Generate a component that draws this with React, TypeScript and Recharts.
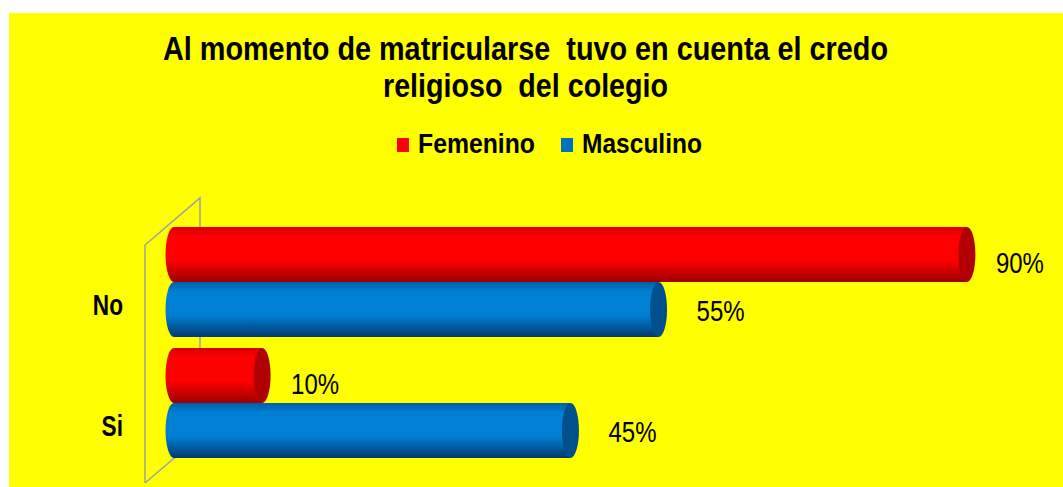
import React from 'react';
import { BarChart, Bar, XAxis, YAxis, LabelList } from 'recharts';

const CATEGORIES = ['No', 'Si'];
const FEMENINO = [90, 10];
const MASCULINO = [55, 45];
const SERIES = ['Femenino', 'Masculino'];
const TITLE_LINES = ['Al momento de matricularse  tuvo en cuenta el credo', 'religioso  del colegio'];

const chartData = CATEGORIES.map((cat, i) => ({
  cat,
  Femenino: FEMENINO[i],
  Masculino: MASCULINO[i],
}));

const W = 1054;
const H = 474;
const FONT = '"Liberation Sans", Arial, sans-serif';
const CAP_RX = 8.5;

type Tone = { top: string; mid: string; bottom: string; cap: string; legend: string };

const TONES: Record<string, Tone> = {
  Femenino: { top: '#D80000', mid: '#FF0000', bottom: '#9A0000', cap: '#B00000', legend: '#FF0000' },
  Masculino: { top: '#005FA8', mid: '#0080D4', bottom: '#003A70', cap: '#00508C', legend: '#0070C0' },
};

// label offsets per series (3D perspective puts them a bit off the bar centre)
const LABEL_OFFSET: Record<string, { dx: number; dy: number }> = {
  Femenino: { dx: 29, dy: 7.5 },
  Masculino: { dx: 38, dy: 0.5 },
};

const Cylinder = (props: any) => {
  const { x, y, width, height, index, tone, name } = props;
  if (width == null || height == null) return null;
  const t: Tone = tone;
  const id = `cyl-${name}-${index}`;
  const ry = height / 2;
  const end = x + width;
  const body = `M ${x} ${y} L ${end} ${y} L ${end} ${y + height} L ${x} ${y + height} A ${CAP_RX} ${ry} 0 0 1 ${x} ${y} Z`;
  return (
    <g>
      <defs>
        <linearGradient id={id} x1="0" y1="0" x2="0" y2="1">
          <stop offset="0" stopColor={t.top} />
          <stop offset="0.18" stopColor={t.mid} />
          <stop offset="0.6" stopColor={t.mid} />
          <stop offset="1" stopColor={t.bottom} />
        </linearGradient>
      </defs>
      <path d={body} fill={`url(#${id})`} />
      <ellipse cx={end} cy={y + ry} rx={CAP_RX} ry={ry} fill={t.cap} />
    </g>
  );
};

const ValueLabel = (props: any) => {
  const { x, y, width, height, value, series } = props;
  const off = LABEL_OFFSET[series];
  const lx = x + width + off.dx;
  const ly = y + height / 2 + off.dy + 11;
  return (
    <g transform={`translate(${lx}, ${ly}) scale(0.8, 1)`}>
      <text x={0} y={0} fontFamily={FONT} fontSize={30} fill="#000">
        {`${value}%`}
      </text>
    </g>
  );
};

const CategoryTick = (props: any) => {
  const { y, payload } = props;
  return (
    <g transform={`translate(114, ${y + 33.5}) scale(0.78, 1)`}>
      <text x={0} y={0} textAnchor="end" fontFamily={FONT} fontWeight="bold" fontSize={29} fill="#000">
        {payload.value}
      </text>
    </g>
  );
};

const Backdrop = () => (
  <svg width={W} height={H} style={{ position: 'absolute', left: 0, top: 0 }}>
    {/* 3D back wall */}
    <polyline
      points="136,470 136,232 191,185 191,423 136,470"
      fill="none"
      stroke="#A0A0A0"
      strokeWidth={1.5}
    />
    <text x={516.5} y={47} textAnchor="middle" fontFamily={FONT} fontWeight="bold" fontSize={33}
      style={{ whiteSpace: 'pre' }} textLength={725} lengthAdjust="spacingAndGlyphs">{TITLE_LINES[0]}</text>
    <text x={516.5} y={84} textAnchor="middle" fontFamily={FONT} fontWeight="bold" fontSize={33}
      style={{ whiteSpace: 'pre' }} textLength={285} lengthAdjust="spacingAndGlyphs">{TITLE_LINES[1]}</text>
    <rect x={388} y={125} width={12} height={14} fill={TONES[SERIES[0]].legend} />
    <text x={409} y={140} fontFamily={FONT} fontWeight="bold" fontSize={28}
      textLength={117} lengthAdjust="spacingAndGlyphs">{SERIES[0]}</text>
    <rect x={552} y={125} width={12} height={14} fill={TONES[SERIES[1]].legend} />
    <text x={573} y={140} fontFamily={FONT} fontWeight="bold" fontSize={28}
      textLength={120} lengthAdjust="spacingAndGlyphs">{SERIES[1]}</text>
  </svg>
);

export default function App() {
  return (
    <div style={{ position: 'relative', width: 1063, height: 487, background: '#fff', overflow: 'hidden' }}>
      <style>{'body{margin:0;overflow:hidden}'}</style>
      <div style={{ position: 'absolute', left: 9, top: 13, width: W, height: H, background: '#FFFF00' }}>
        <Backdrop />
        <div style={{ position: 'absolute', left: 0, top: 0 }}>
          <BarChart
            width={W}
            height={H}
            data={chartData}
            layout="vertical"
            margin={{ top: 208, right: 8, bottom: 24, left: 0 }}
            barCategoryGap={6}
            barGap={0}
          >
            <XAxis type="number" domain={[0, 100]} hide />
            <YAxis
              type="category"
              dataKey="cat"
              width={165}
              axisLine={false}
              tickLine={false}
              tick={<CategoryTick />}
            />
            {SERIES.map((s) => (
              <Bar
                key={s}
                dataKey={s}
                fill={TONES[s].legend}
                isAnimationActive={false}
                shape={(p: any) => <Cylinder {...p} tone={TONES[s]} name={s} />}
              >
                <LabelList dataKey={s} content={(p: any) => <ValueLabel {...p} series={s} />} />
              </Bar>
            ))}
          </BarChart>
        </div>
      </div>
    </div>
  );
}
